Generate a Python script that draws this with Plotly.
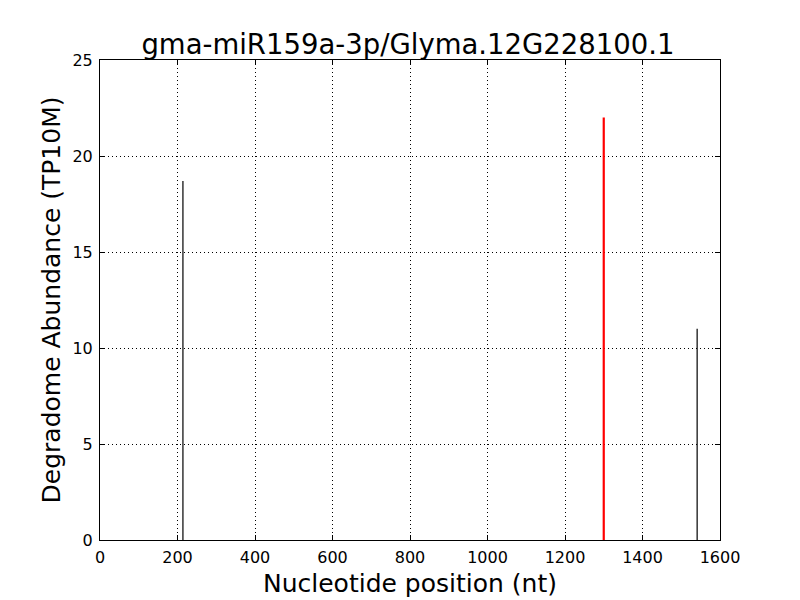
import plotly.graph_objects as go

title = "gma-miR159a-3p/Glyma.12G228100.1"
other_pos = [214, 1541]
other_abund = [18.7, 11.0]
target_pos = [1300]
target_abund = [22.0]
x_ticks = [0, 200, 400, 600, 800, 1000, 1200, 1400, 1600]
y_ticks = [0, 5, 10, 15, 20, 25]

def stems(xs, ys):
    sx, sy = [], []
    for x, y in zip(xs, ys):
        sx += [x, x, None]
        sy += [0, y, None]
    return sx, sy

fig = go.Figure()
ox, oy = stems(other_pos, other_abund)
fig.add_trace(go.Scatter(x=ox, y=oy, mode="lines", line=dict(color="black", width=1.2),
                         hoverinfo="skip", showlegend=False))
tx, ty = stems(target_pos, target_abund)
fig.add_trace(go.Scatter(x=tx, y=ty, mode="lines", line=dict(color="red", width=2.2),
                         hoverinfo="skip", showlegend=False))

axis_common = dict(
    showline=True, linecolor="black", linewidth=1, mirror="ticks",
    ticks="inside", ticklen=5, tickcolor="black",
    showgrid=True, gridcolor="black", griddash="1px,3px", gridwidth=1,
    zeroline=False, tickfont=dict(family="DejaVu Sans", size=16, color="black"),
    ticklabelstandoff=3,
)

fig.update_layout(
    width=800, height=600,
    margin=dict(l=92, r=88, t=52, b=68),
    paper_bgcolor="white", plot_bgcolor="white",
    font=dict(family="DejaVu Sans", color="black"),
    title=dict(text=title, x=0.5, xanchor="center", y=1 - 36/600, yanchor="middle",
               font=dict(size=27.5, family="DejaVu Sans", color="black")),
    xaxis=dict(range=[0, 1600], tickvals=x_ticks, ticktext=[str(t) for t in x_ticks],
               title=dict(text="Nucleotide position (nt)", font=dict(size=25), standoff=8),
               **axis_common),
    yaxis=dict(range=[0, 25], tickvals=y_ticks, ticktext=[str(t) for t in y_ticks],
               title=dict(text="Degradome Abundance (TP10M)", font=dict(size=25), standoff=4),
               **axis_common),
)

fig.write_html("out.html")
